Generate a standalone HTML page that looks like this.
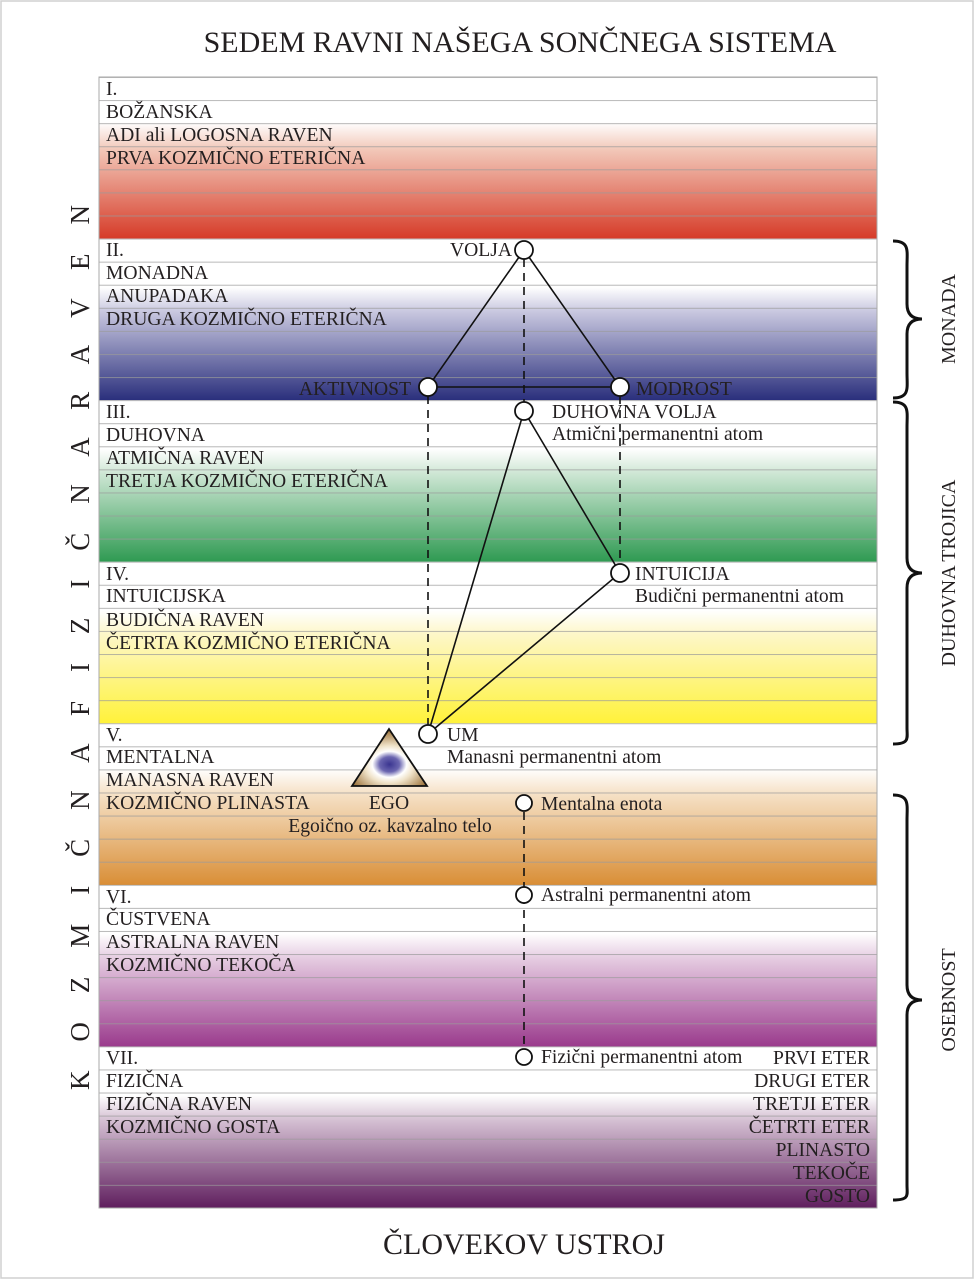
<!DOCTYPE html>
<html><head><meta charset="utf-8"><style>
html,body{margin:0;padding:0;background:#fff}
svg{display:block}
text{font-family:"Liberation Serif",serif;fill:#231f20}
</style></head><body>
<svg width="975" height="1280" viewBox="0 0 975 1280" xmlns="http://www.w3.org/2000/svg">
<defs>
<linearGradient id="g1" x1="0" y1="0" x2="0" y2="1"><stop offset="0.28" stop-color="#fff"/><stop offset="0.45" stop-color="#f2c7b8"/><stop offset="1" stop-color="#d63b28"/></linearGradient>
<linearGradient id="g2" x1="0" y1="0" x2="0" y2="1"><stop offset="0.3" stop-color="#fff"/><stop offset="0.45" stop-color="#c9c8e0"/><stop offset="1" stop-color="#2a2f7c"/></linearGradient>
<linearGradient id="g3" x1="0" y1="0" x2="0" y2="1"><stop offset="0.3" stop-color="#fff"/><stop offset="0.45" stop-color="#cfe7d5"/><stop offset="1" stop-color="#2f9a52"/></linearGradient>
<linearGradient id="g4" x1="0" y1="0" x2="0" y2="1"><stop offset="0.3" stop-color="#fff"/><stop offset="0.45" stop-color="#fdf7c8"/><stop offset="1" stop-color="#fff23a"/></linearGradient>
<linearGradient id="g5" x1="0" y1="0" x2="0" y2="1"><stop offset="0.28" stop-color="#fff"/><stop offset="0.43" stop-color="#f6e2c8"/><stop offset="1" stop-color="#d98e36"/></linearGradient>
<linearGradient id="g6" x1="0" y1="0" x2="0" y2="1"><stop offset="0.3" stop-color="#fff"/><stop offset="0.45" stop-color="#e6cde2"/><stop offset="1" stop-color="#9a3a8c"/></linearGradient>
<linearGradient id="g7" x1="0" y1="0" x2="0" y2="1"><stop offset="0.3" stop-color="#fff"/><stop offset="0.45" stop-color="#d6c2d4"/><stop offset="1" stop-color="#5f1e5e"/></linearGradient>
<pattern id="lines" x="0" y="77" width="10" height="23.08" patternUnits="userSpaceOnUse"><rect x="0" y="0" width="10" height="1" fill="#9a9a9a" fill-opacity="0.7"/></pattern>
<radialGradient id="ego" cx="0.5" cy="0.62" r="0.6"><stop offset="0" stop-color="#3a3590"/><stop offset="0.22" stop-color="#6b66b0"/><stop offset="0.38" stop-color="#fff"/><stop offset="0.55" stop-color="#efe2c8"/><stop offset="1" stop-color="#9a7038"/></radialGradient>
</defs>
<rect x="1" y="1" width="972" height="1277" fill="none" stroke="#d0d0d0" stroke-width="1.5"/>
<text x="520" y="52" font-size="30" text-anchor="middle">SEDEM RAVNI NAŠEGA SONČNEGA SISTEMA</text>
<rect x="99" y="77" width="778" height="161.6" fill="url(#g1)"/>
<rect x="99" y="238.6" width="778" height="161.6" fill="url(#g2)"/>
<rect x="99" y="400.2" width="778" height="161.6" fill="url(#g3)"/>
<rect x="99" y="561.8" width="778" height="161.6" fill="url(#g4)"/>
<rect x="99" y="723.4" width="778" height="161.6" fill="url(#g5)"/>
<rect x="99" y="885" width="778" height="161.6" fill="url(#g6)"/>
<rect x="99" y="1046.6" width="778" height="161.4" fill="url(#g7)"/>
<rect x="99" y="77" width="778" height="1131" fill="url(#lines)"/>
<rect x="99" y="77" width="778" height="1131" fill="none" stroke="#aaa" stroke-width="1"/>
<g font-size="19.6">
<text x="106" y="95">I.</text><text x="106" y="118">BOŽANSKA</text><text x="106" y="141">ADI ali LOGOSNA RAVEN</text><text x="106" y="164">PRVA KOZMIČNO ETERIČNA</text>
<text x="106" y="256">II.</text><text x="106" y="279">MONADNA</text><text x="106" y="302">ANUPADAKA</text><text x="106" y="325">DRUGA KOZMIČNO ETERIČNA</text>
<text x="106" y="418">III.</text><text x="106" y="441">DUHOVNA</text><text x="106" y="464">ATMIČNA RAVEN</text><text x="106" y="487">TRETJA KOZMIČNO ETERIČNA</text>
<text x="106" y="580">IV.</text><text x="106" y="602">INTUICIJSKA</text><text x="106" y="626">BUDIČNA RAVEN</text><text x="106" y="649">ČETRTA KOZMIČNO ETERIČNA</text>
<text x="106" y="741">V.</text><text x="106" y="763">MENTALNA</text><text x="106" y="786">MANASNA RAVEN</text><text x="106" y="809">KOZMIČNO PLINASTA</text>
<text x="106" y="903">VI.</text><text x="106" y="925">ČUSTVENA</text><text x="106" y="948">ASTRALNA RAVEN</text><text x="106" y="971">KOZMIČNO TEKOČA</text>
<text x="106" y="1064">VII.</text><text x="106" y="1087">FIZIČNA</text><text x="106" y="1110">FIZIČNA RAVEN</text><text x="106" y="1133">KOZMIČNO GOSTA</text>
<g text-anchor="end"><text x="870" y="1064">PRVI ETER</text><text x="870" y="1087">DRUGI ETER</text><text x="870" y="1110">TRETJI ETER</text><text x="870" y="1133">ČETRTI ETER</text><text x="870" y="1156">PLINASTO</text><text x="870" y="1179">TEKOČE</text><text x="870" y="1202">GOSTO</text></g>
<text x="512" y="256" text-anchor="end">VOLJA</text>
<text x="411" y="395" text-anchor="end">AKTIVNOST</text>
<text x="636" y="395">MODROST</text>
<text x="552" y="418">DUHOVNA VOLJA</text>
<text x="552" y="440">Atmični permanentni atom</text>
<text x="635" y="580">INTUICIJA</text>
<text x="635" y="602">Budični permanentni atom</text>
<text x="447" y="741">UM</text>
<text x="447" y="763">Manasni permanentni atom</text>
<text x="389" y="809" text-anchor="middle">EGO</text>
<text x="390" y="832" text-anchor="middle">Egoično oz. kavzalno telo</text>
<text x="541" y="810">Mentalna enota</text>
<text x="541" y="901">Astralni permanentni atom</text>
<text x="541" y="1063">Fizični permanentni atom</text>
</g>
<text transform="translate(89,1090) rotate(-90)" font-size="27" textLength="885" lengthAdjust="spacing">K O Z M I Č N A   F I Z I Č N A   R A V E N</text>
<g font-size="20">
<text transform="translate(955,319) rotate(-90)" text-anchor="middle">MONADA</text>
<text transform="translate(955,573) rotate(-90)" text-anchor="middle">DUHOVNA TROJICA</text>
<text transform="translate(955,1000) rotate(-90)" text-anchor="middle">OSEBNOST</text>
</g>
<g fill="none" stroke="#111" stroke-width="3">
<path d="M893,241 C910,241 907,251 907,266 L907,304 C907,314 912,319 922,319 C912,319 907,324 907,334 L907,373 C907,388 910,398 893,398"/>
<path d="M893,402 C910,402 907,412 907,427 L907,558 C907,568 912,573 922,573 C912,573 907,578 907,588 L907,728 C907,738 910,744 893,744"/>
<path d="M893,795 C910,795 907,805 907,820 L907,985 C907,995 912,1000 922,1000 C912,1000 907,1005 907,1015 L907,1185 C907,1195 910,1200 893,1200"/>
</g>
<g stroke="#111" stroke-width="1.6" fill="none">
<path d="M524,250 L428,387 L620,387 Z"/>
<path d="M524,411 L620,573 L428,734 Z"/>
<g stroke-dasharray="8,6"><line x1="524" y1="259" x2="524" y2="402"/><line x1="428" y1="396" x2="428" y2="725"/><line x1="620" y1="396" x2="620" y2="564"/><line x1="524" y1="812" x2="524" y2="1048"/></g>
</g>
<polygon points="389,729 352,786 427,786" fill="url(#ego)" stroke="#111" stroke-width="1.8"/>
<g fill="#fff" stroke="#111" stroke-width="1.8">
<circle cx="524" cy="250" r="9"/><circle cx="428" cy="387" r="9"/><circle cx="620" cy="387" r="9"/>
<circle cx="524" cy="411" r="9"/><circle cx="620" cy="573" r="9"/><circle cx="428" cy="734" r="9"/>
<circle cx="524" cy="803" r="8"/><circle cx="524" cy="895" r="8"/><circle cx="524" cy="1057" r="8"/>
</g>
<text x="524" y="1254" font-size="30" text-anchor="middle">ČLOVEKOV USTROJ</text>
</svg>
</body></html>
